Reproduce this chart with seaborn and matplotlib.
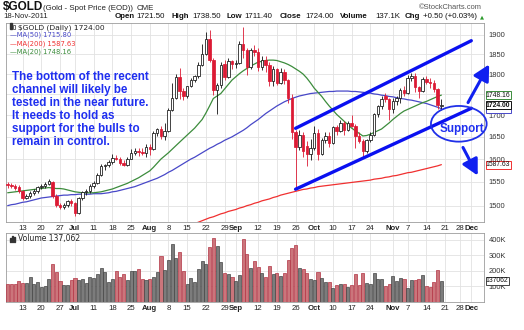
import numpy as np
import pandas as pd
import matplotlib
matplotlib.use("Agg")
import matplotlib.pyplot as plt
import seaborn as sns
from matplotlib.patches import Ellipse, FancyArrowPatch, Rectangle
from matplotlib.ticker import FixedLocator, FixedFormatter, NullLocator

# ---------------- data ----------------
opens = [1545, 1544, 1542, 1540, 1530, 1516, 1520, 1526, 1530, 1539, 1541, 1546, 1550, 1521, 1502, 1497, 1501, 1509, 1505, 1485,
         1515, 1529, 1530, 1541, 1548, 1565, 1585, 1586, 1594, 1603, 1601, 1591, 1587, 1601, 1614, 1618, 1615, 1614, 1628, 1622,
         1658, 1668, 1653, 1663, 1713, 1742, 1792, 1758, 1747, 1770, 1786, 1794, 1823, 1851, 1889, 1836, 1760, 1772, 1825, 1792,
         1832, 1824, 1828, 1876, 1862, 1817, 1860, 1857, 1818, 1836, 1822, 1782, 1812, 1778, 1806, 1784, 1741, 1660, 1627, 1654,
         1630, 1612, 1624, 1659, 1612, 1642, 1652, 1636, 1672, 1663, 1683, 1666, 1683, 1675, 1653, 1640, 1617, 1642, 1654, 1702,
         1722, 1745, 1738, 1714, 1733, 1740, 1760, 1753, 1791, 1796, 1768, 1757, 1788, 1781, 1777, 1762, 1721.5]
highs = [1549, 1548, 1546, 1544, 1532, 1524, 1530, 1534, 1541, 1545, 1551, 1556, 1552, 1524, 1505, 1505, 1512, 1514, 1508, 1518,
         1531, 1534, 1545, 1552, 1570, 1590, 1590, 1597, 1611, 1609, 1604, 1599, 1605, 1623, 1625, 1624, 1625, 1633, 1634, 1663,
         1671, 1674, 1682, 1717, 1778, 1800, 1814, 1765, 1771, 1791, 1797, 1829, 1877, 1908, 1912, 1840, 1778, 1830, 1835, 1840,
         1836, 1835, 1884, 1921, 1866, 1865, 1874, 1865, 1845, 1845, 1830, 1820, 1815, 1815, 1812, 1787, 1752, 1666, 1665, 1660,
         1640, 1645, 1675, 1668, 1648, 1660, 1660, 1675, 1678, 1690, 1686, 1686, 1700, 1680, 1660, 1645, 1645, 1660, 1705, 1725,
         1747, 1753, 1740, 1740, 1746, 1766, 1770, 1797, 1803, 1802, 1770, 1792, 1796, 1790, 1785, 1766, 1738.5]
lows = [1538, 1537, 1533, 1527, 1512, 1513, 1517, 1522, 1527, 1535, 1538, 1543, 1515, 1497, 1493, 1494, 1498, 1500, 1478, 1483,
        1512, 1523, 1527, 1537, 1545, 1562, 1576, 1582, 1590, 1597, 1586, 1584, 1585, 1600, 1610, 1607, 1608, 1605, 1610, 1620,
        1652, 1646, 1643, 1660, 1710, 1738, 1738, 1737, 1740, 1768, 1780, 1791, 1820, 1848, 1830, 1748, 1703, 1765, 1785, 1790,
        1812, 1815, 1826, 1840, 1797, 1812, 1845, 1808, 1810, 1805, 1771, 1770, 1773, 1775, 1775, 1730, 1645, 1535, 1620, 1605,
        1585, 1598, 1620, 1598, 1608, 1636, 1626, 1633, 1655, 1660, 1655, 1663, 1672, 1625, 1636, 1604, 1614, 1638, 1652, 1695,
        1715, 1732, 1688, 1705, 1725, 1730, 1745, 1750, 1782, 1755, 1740, 1755, 1775, 1765, 1755, 1716, 1711.4]
closes = [1544, 1542, 1538, 1530, 1516, 1520, 1526, 1530, 1539, 1541, 1546, 1552, 1521, 1502, 1497, 1501, 1509, 1505, 1484, 1515,
          1529, 1530, 1541, 1548, 1565, 1585, 1586, 1594, 1603, 1601, 1591, 1587, 1601, 1614, 1618, 1615, 1614, 1628, 1622, 1658,
          1668, 1653, 1663, 1713, 1742, 1792, 1758, 1747, 1770, 1786, 1794, 1823, 1851, 1889, 1836, 1760, 1772, 1822, 1792, 1832,
          1824, 1828, 1876, 1862, 1817, 1860, 1857, 1818, 1836, 1822, 1782, 1812, 1778, 1806, 1784, 1741, 1660, 1627, 1654, 1618,
          1612, 1624, 1659, 1612, 1642, 1652, 1636, 1672, 1663, 1683, 1666, 1683, 1675, 1653, 1640, 1617, 1642, 1654, 1702, 1722,
          1739, 1738, 1714, 1733, 1740, 1760, 1753, 1791, 1796, 1768, 1757, 1788, 1781, 1777, 1762, 1723.5, 1724]
volumes_k = [116, 116, 114, 138, 125, 125, 160, 114, 127, 99, 103, 146, 245, 191, 138, 110, 110, 142, 153, 142,
             146, 125, 163, 153, 181, 217, 194, 127, 146, 200, 160, 181, 142, 198, 198, 211, 151, 142, 151, 163,
             196, 297, 206, 271, 374, 282, 320, 200, 116, 157, 131, 211, 265, 243, 357, 415, 361, 258, 185, 181,
             163, 138, 174, 404, 308, 217, 265, 228, 189, 163, 232, 178, 189, 168, 185, 271, 351, 370, 217, 211,
             185, 151, 142, 196, 153, 127, 127, 92, 110, 114, 114, 99, 110, 178, 110, 185, 120, 114, 185, 146,
             146, 103, 114, 170, 138, 153, 146, 88, 142, 142, 151, 172, 103, 95, 131, 205, 137.062]
ma20 = [1527, 1528, 1529, 1530, 1531, 1532, 1533, 1534, 1535, 1536, 1537, 1538, 1537, 1536, 1536, 1535, 1533, 1531, 1529, 1528,
        1527, 1527, 1527, 1527, 1528, 1529, 1531, 1533, 1535, 1538, 1541, 1544, 1547, 1551, 1555, 1559, 1564, 1569, 1574, 1582,
        1591, 1600, 1607, 1614, 1622, 1630, 1638, 1646, 1654, 1662, 1670, 1680, 1690, 1705, 1722, 1740, 1746, 1752, 1763, 1774,
        1785, 1793, 1801, 1808, 1814, 1820, 1825, 1830, 1832, 1834, 1835, 1835, 1834, 1831, 1828, 1824, 1819, 1813, 1807, 1800,
        1790, 1778, 1765, 1755, 1745, 1733, 1722, 1712, 1702, 1694, 1686, 1678, 1670, 1664, 1658, 1652, 1653, 1656, 1660, 1664,
        1668, 1675, 1682, 1690, 1697, 1704, 1710, 1714, 1718, 1722, 1726, 1730, 1733, 1737, 1741, 1745, 1748.16]
ma50 = [1500, 1502, 1503, 1505, 1507, 1508, 1510, 1512, 1514, 1516, 1517, 1518, 1519, 1520, 1521, 1522, 1522, 1523, 1523, 1524,
        1524, 1524, 1524, 1525, 1525, 1525, 1526, 1527, 1529, 1530, 1532, 1534, 1536, 1538, 1540, 1543, 1546, 1549, 1552, 1555,
        1558, 1562, 1566, 1571, 1575, 1580, 1585, 1590, 1595, 1600, 1604, 1609, 1614, 1619, 1624, 1628, 1633, 1637, 1642, 1646,
        1650, 1655, 1660, 1665, 1671, 1678, 1684, 1690, 1697, 1704, 1710, 1716, 1722, 1727, 1732, 1736, 1740, 1743, 1746, 1748,
        1750, 1752, 1753, 1754, 1755, 1756, 1757, 1757, 1758, 1758, 1758, 1758, 1757, 1757, 1756, 1755, 1754, 1753, 1751, 1750,
        1748, 1747, 1745, 1744, 1742, 1740, 1739, 1737, 1736, 1734, 1732, 1730, 1728, 1725, 1722, 1719, 1715.8]
ma200_start = "2011-08-17"
ma200 = [1463, 1466, 1469, 1472, 1475, 1477, 1480, 1483, 1485, 1488, 1490, 1492, 1495, 1497, 1500, 1502, 1505, 1507, 1510, 1512,
         1514, 1517, 1519, 1522, 1524, 1526, 1528, 1530, 1532, 1534, 1535, 1537, 1538, 1540, 1541, 1542, 1543, 1544, 1545, 1546,
         1547, 1548, 1549, 1550, 1551, 1552, 1553, 1554, 1556, 1557, 1558, 1560, 1561, 1563, 1564, 1566, 1568, 1570, 1571, 1573,
         1575, 1577, 1579, 1581, 1583, 1585, 1587.63]

first_day = "2011-06-07"
holidays = ["2011-07-04", "2011-09-05", "2011-11-24"]
tick_dates = ["2011-06-13", "2011-06-20", "2011-06-27", "2011-07-01", "2011-07-11", "2011-07-18", "2011-07-25",
              "2011-08-01", "2011-08-08", "2011-08-15", "2011-08-22", "2011-08-29", "2011-09-01", "2011-09-12",
              "2011-09-19", "2011-09-26", "2011-10-03", "2011-10-10", "2011-10-17", "2011-10-24", "2011-11-01",
              "2011-11-07", "2011-11-14", "2011-11-21", "2011-11-28", "2011-12-01"]
tick_labels = ["13", "20", "27", "Jul", "11", "18", "25", "Aug", "8", "15", "22", "29", "Sep", "12", "19", "26",
               "Oct", "10", "17", "24", "Nov", "7", "14", "21", "28", "Dec"]
month_labels = {"Jul", "Aug", "Sep", "Oct", "Nov", "Dec"}
price_ticks = [1500, 1550, 1600, 1650, 1700, 1750, 1800, 1850, 1900]
price_tick_labels = ["1500", "1550", "1600", "1650", "1700", "", "1800", "1850", "1900"]
vol_ticks = [100000, 200000, 300000, 400000]
vol_tick_labels = ["100K", "200K", "300K", "400K"]

# annotation geometry
channel_upper = [("2011-09-26", 1669.6), ("2011-12-01", 1885)]
channel_lower = [("2011-09-26", 1534.5), ("2011-12-01", 1716.6)]
note_text = ("The bottom of the recent\nchannel will likely be\ntested in the near future.\n"
             "It needs to hold as\nsupport for the bulls to\nremain in control.")

# ---------------- styling ----------------
W, H = 524, 330
BLUE_NOTE = "#1f2ff0"
RED = "#dc1a34"
C_MA50 = "#4848c8"
C_MA200 = "#f03030"
C_MA20 = "#3c8c3c"
GRID = "#e2e2e2"
SPINE = "#9c9c9c"

sns.set_theme(style="white")
plt.rcParams['font.family'] = ['Liberation Sans', 'DejaVu Sans']

fig = plt.figure(figsize=(W / 100, H / 100), dpi=100)
fig.patch.set_facecolor("white")


def fx(x):
    return x / W


def fy(y):
    return 1 - y / H


ax = fig.add_axes([fx(6), fy(222), fx(484) - fx(6), fy(23) - fy(222)])
axv = fig.add_axes([fx(6), fy(302), fx(484) - fx(6), fy(233) - fy(302)])

days = pd.bdate_range(first_day, "2011-12-09")
days = days[~days.isin(pd.to_datetime(holidays))]
pos = {d: i for i, d in enumerate(days)}

o = np.array(opens, float)
h = np.array(highs, float)
l = np.array(lows, float)
c = np.array(closes, float)
n = len(c)
x = np.arange(n)
prev = np.r_[np.inf, c[:-1]]
up = c >= prev
edge = np.where(up, "#111111", RED)
face = np.where(c > o, "white", edge)

ax.set_yscale("log")
ax.vlines(x, l, h, colors=edge, lw=0.6, zorder=3)
ax.bar(x, np.maximum(np.abs(c - o), 0.9), bottom=np.minimum(o, c), width=0.66,
       color=face, edgecolor=edge, linewidth=0.55, zorder=4)

sns.lineplot(x=x, y=ma50, color=C_MA50, lw=0.9, ax=ax, zorder=2, legend=False)
sns.lineplot(x=x, y=ma20, color=C_MA20, lw=0.9, ax=ax, zorder=2, legend=False)
x200 = np.arange(pos[pd.Timestamp(ma200_start)], pos[pd.Timestamp(ma200_start)] + len(ma200))
sns.lineplot(x=x200, y=ma200, color=C_MA200, lw=0.9, ax=ax, zorder=2, legend=False)

for seg in (channel_upper, channel_lower):
    xs = [pos[pd.Timestamp(d)] for d, _ in seg]
    ys = [v for _, v in seg]
    ax.plot(xs, ys, color="#0a10f0", lw=2.4, solid_capstyle="round", zorder=6)

# volume panel
vol = np.array(volumes_k) * 1000
vdf = pd.DataFrame({"x": x, "vol": vol, "dir": np.where(up, "up", "down")})
sns.barplot(data=vdf, x="x", y="vol", hue="dir", palette={"up": "#7c7c7c", "down": "#d9676f"},
            native_scale=True, dodge=False, width=0.82, legend=False, ax=axv, zorder=3)
for p, u in zip(sorted(axv.patches, key=lambda r: r.get_x()), up):
    p.set_edgecolor("#454545" if u else "#b23444")
    p.set_linewidth(0.5)

tick_pos = [pos[pd.Timestamp(d)] for d in tick_dates]
for a in (ax, axv):
    a.set_xlim(-0.45, 127.4)
    a.set_xticks(tick_pos)
    a.set_xticklabels(tick_labels)
    for t in a.get_xticklabels():
        t.set_fontsize(5.6)
        t.set_color("#222222")
        if t.get_text() in month_labels:
            t.set_fontweight("bold")
    a.tick_params(axis="x", length=0, pad=2.2)
    a.tick_params(axis="y", length=0, pad=3.5, labelsize=5.4, labelcolor="#333333")
    a.yaxis.tick_right()
    a.grid(True, color=GRID, lw=0.6)
    a.set_axisbelow(True)
    a.set_xlabel("")
    a.set_ylabel("")
    for s in a.spines.values():
        s.set_color(SPINE)
        s.set_linewidth(0.6)
        s.set_visible(True)

ax.set_ylim(1466.4, 1931.8)
ax.yaxis.set_major_locator(FixedLocator(price_ticks))
ax.yaxis.set_major_formatter(FixedFormatter(price_tick_labels))
ax.yaxis.set_minor_locator(NullLocator())
axv.set_ylim(0, 445000)
axv.yaxis.set_major_locator(FixedLocator(vol_ticks))
axv.yaxis.set_major_formatter(FixedFormatter(vol_tick_labels))


def vbox(a, val, txt, col, bold=False, z=7):
    a.text(1.004, val, txt, transform=a.get_yaxis_transform(), ha="left", va="center",
           fontsize=4.9, color="#111111", fontweight="bold" if bold else "normal", zorder=z, clip_on=False,
           bbox=dict(boxstyle="square,pad=0.06", fc="white", ec=col, lw=0.7))


vbox(ax, ma50[-1], "1715.80", C_MA50, z=7)
vbox(ax, c[-1], "1724.00", "#111111", bold=True, z=8)
vbox(ax, ma20[-1], "1748.16", C_MA20, z=8)
vbox(ax, ma200[-1], "1587.63", C_MA200, z=8)
vbox(axv, vol[-1], "137062", "#444444", z=8)

# header
fig.text(fx(3), fy(10.5), "$GOLD", fontsize=8.5, fontweight="bold", color="#111111")
fig.text(fx(43), fy(10.5), "(Gold - Spot Price (EOD))", fontsize=5.7, color="#222222")
fig.text(fx(136.5), fy(10.5), "CME", fontsize=5.7, color="#222222")
fig.text(fx(419), fy(9), "\u00a9StockCharts.com", fontsize=5.4, color="#555555")
fig.text(fx(3), fy(18.5), "18-Nov-2011", fontsize=5.6, color="#222222")
hdr = [(115, "Open", True), (136.5, "1721.50", False), (171.5, "High", True), (192.5, "1738.50", False),
       (226.5, "Low", True), (244.5, "1711.40", False), (280, "Close", True), (305, "1724.00", False),
       (339.5, "Volume", True), (375, "137.1K", False), (405, "Chg", True), (423, "+0.50 (+0.03%)", False)]
for px_, s, b in hdr:
    fig.text(fx(px_), fy(18.5), s, fontsize=5.7, fontweight="bold" if b else "normal", color="#111111")
fig.text(fx(480), fy(18.3), "\u25b2", fontsize=3.8, color="#2a9a2a", family=["DejaVu Sans"])

# legend in price panel
fig.add_artist(Rectangle((fx(10), fy(29)), 1.6 / W, 5.5 / H, transform=fig.transFigure, color="#333333"))
fig.add_artist(Rectangle((fx(13), fy(28.5)), 1.6 / W, 4 / H, transform=fig.transFigure, fc="white", ec="#333333", lw=0.5))
fig.text(fx(17.5), fy(29.3), "$GOLD (Daily) 1724.00", fontsize=5.4, color="#222222", family=["DejaVu Sans"])
fig.text(fx(9.5), fy(37), "\u2014MA(50) 1715.80", fontsize=4.9, color=C_MA50, family=["DejaVu Sans"])
fig.text(fx(9.5), fy(45.3), "\u2014MA(200) 1587.63", fontsize=4.9, color=C_MA200, family=["DejaVu Sans"])
fig.text(fx(9.5), fy(53.7), "\u2014MA(20) 1748.16", fontsize=4.9, color=C_MA20, family=["DejaVu Sans"])

# legend in volume panel
for k, hh in enumerate([3.5, 5.5, 4.5]):
    fig.add_artist(Rectangle((fx(10 + 1.8 * k), fy(241.5)), 1.2 / W, hh / H, transform=fig.transFigure, color="#333333"))
fig.text(fx(18.3), fy(241.5), "Volume 137,062", fontsize=5.5, color="#222222", family=["DejaVu Sans"])

# annotation text
fig.text(fx(12.5), fy(70.5), note_text, fontsize=8.4, fontweight="bold", color=BLUE_NOTE,
         va="top", ha="left", linespacing=1.12)

# support ellipse, text and arrows
fig.add_artist(Ellipse((fx(458.8), fy(123.8)), 55.7 / W, 35.7 / H, transform=fig.transFigure,
                       fill=False, ec="#2030e8", lw=1.3, zorder=9))
fig.text(fx(461.5), fy(129.3), "Support", fontsize=8.4, fontweight="bold", color=BLUE_NOTE,
         ha="center", va="center", zorder=9)
for (x0, y0), (x1, y1) in [((466.7, 105), (490.5, 62)), ((461.7, 145), (479, 178))]:
    fig.add_artist(FancyArrowPatch((fx(x0), fy(y0)), (fx(x1), fy(y1)), transform=fig.transFigure,
                                   arrowstyle="-|>,head_length=0.95,head_width=0.5", mutation_scale=10,
                                   color="#1020f0", lw=2.2, zorder=9))

fig.savefig("out.png", dpi=100, facecolor="white")
